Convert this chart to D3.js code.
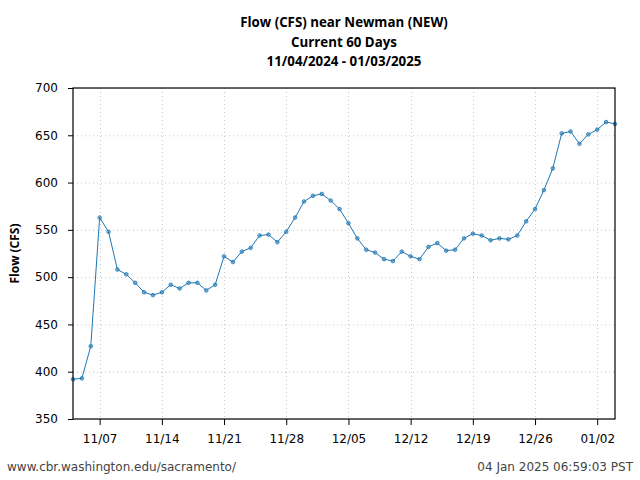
<!DOCTYPE html>
<html>
<head>
<meta charset="utf-8">
<script src="https://cdn.jsdelivr.net/npm/d3@7"></script>
<style>
  html, body { margin: 0; padding: 0; background: #fff; }
  svg { display: block; }
</style>
</head>
<body>
<svg id="chart" width="640" height="480"></svg>
<script>
const startDate = "2024-11-04";
const flowValues = [
  392, 393, 427, 563, 548, 508, 503, 494, 484, 481,
  484, 492, 488, 494, 494, 486, 492, 522, 516, 527,
  531, 544, 545, 537, 548, 563, 580, 586, 588, 581,
  572, 557, 541, 529, 526, 519, 517, 527, 522, 519,
  532, 536, 528, 529, 541, 546, 544, 539, 541, 540,
  544, 559, 572, 592, 615, 652, 654, 641, 651, 656,
  664, 662
];
const yTicks = [350, 400, 450, 500, 550, 600, 650, 700];
const xTickLabels = ["11/07", "11/14", "11/21", "11/28", "12/05", "12/12", "12/19", "12/26", "01/02"];
const titleLines = ["Flow (CFS) near Newman (NEW)", "Current 60 Days", "11/04/2024 - 01/03/2025"];
const yLabel = "Flow (CFS)";
const footerLeft = "www.cbr.washington.edu/sacramento/";
const footerRight = "04 Jan 2025 06:59:03 PST";

(function () {
const parse = d3.utcParse("%Y-%m-%d");
const t0 = parse(startDate);
const data = flowValues.map((v, i) => ({ date: d3.utcDay.offset(t0, i), value: v }));
const xTickDates = xTickLabels.map(s => {
  const [m, d] = s.split("/").map(Number);
  const yr = m >= 11 ? 2024 : 2025;
  return new Date(Date.UTC(yr, m - 1, d));
});

const svg = d3.select("#chart");
const mL = 73, mR = 615, mT = 88, mB = 419;

const x = d3.scaleUtc().domain(d3.extent(data, d => d.date)).range([mL, mR]);
const y = d3.scaleLinear().domain([350, 700]).range([mB, mT]);

const tickFont = "'DejaVu Sans', sans-serif";
const boldFont = "'Open Sans', 'DejaVu Sans', sans-serif";

// grid
const grid = svg.append("g");
grid.selectAll("line.h").data(yTicks).join("line")
  .attr("x1", mL).attr("x2", mR)
  .attr("y1", d => y(d) + 0.5).attr("y2", d => y(d) + 0.5)
  .attr("stroke", "#c8c8c8").attr("stroke-width", 1).attr("stroke-dasharray", "1,3");
grid.selectAll("line.v").data(xTickDates).join("line")
  .attr("x1", d => Math.round(x(d)) + 0.5).attr("x2", d => Math.round(x(d)) + 0.5)
  .attr("y1", mT).attr("y2", mB)
  .attr("stroke", "#c8c8c8").attr("stroke-width", 1).attr("stroke-dasharray", "1,3");

// line
const line = d3.line().x(d => x(d.date)).y(d => y(d.value));
svg.append("path").datum(data)
  .attr("d", line)
  .attr("fill", "none").attr("stroke", "#1f77b4").attr("stroke-width", 1);

svg.append("g").selectAll("circle").data(data).join("circle")
  .attr("cx", d => x(d.date)).attr("cy", d => y(d.value)).attr("r", 1.8)
  .attr("fill", "#1f77b4").attr("fill-opacity", 0.5)
  .attr("stroke", "#1f77b4").attr("stroke-width", 0.8);

// frame
svg.append("rect").attr("x", mL).attr("y", mT)
  .attr("width", mR - mL).attr("height", mB - mT)
  .attr("fill", "none").attr("stroke", "#000").attr("stroke-width", 1.2);

// axes
const xAxis = d3.axisBottom(x).tickValues(xTickDates)
  .tickFormat((d, i) => xTickLabels[i]).tickSize(6).tickPadding(9);
const gx = svg.append("g").attr("transform", `translate(0,${mB})`).call(xAxis);
gx.select(".domain").remove();
gx.selectAll("text").attr("font-family", tickFont).attr("font-size", 12).attr("fill", "#000");
gx.selectAll("line").attr("stroke", "#000");

const yAxis = d3.axisLeft(y).tickValues(yTicks).tickFormat(d3.format("d")).tickSize(5).tickPadding(10);
const gy = svg.append("g").attr("transform", `translate(${mL},0)`).call(yAxis);
gy.select(".domain").remove();
gy.selectAll("text").attr("font-family", tickFont).attr("font-size", 12).attr("fill", "#000");
gy.selectAll("line").attr("stroke", "#000");

// title
const cx = (mL + mR) / 2;
svg.append("g").selectAll("text").data(titleLines).join("text")
  .attr("x", cx).attr("y", (d, i) => 27 + i * 19.5)
  .attr("text-anchor", "middle")
  .attr("font-family", boldFont).attr("font-weight", "bold").attr("font-size", 13.3)
  .attr("fill", "#000").text(d => d);

// y label
svg.append("text")
  .attr("transform", `translate(19,${(mT + mB) / 2}) rotate(-90)`)
  .attr("text-anchor", "middle")
  .attr("font-family", boldFont).attr("font-weight", "bold").attr("font-size", 12)
  .attr("fill", "#000").text(yLabel);

// footer
svg.append("text").attr("x", 7).attr("y", 471)
  .attr("font-family", tickFont).attr("font-size", 12).attr("fill", "#444")
  .text(footerLeft);
svg.append("text").attr("x", 633).attr("y", 471).attr("text-anchor", "end")
  .attr("font-family", tickFont).attr("font-size", 12).attr("fill", "#444")
  .text(footerRight);
})();
</script>
</body>
</html>
